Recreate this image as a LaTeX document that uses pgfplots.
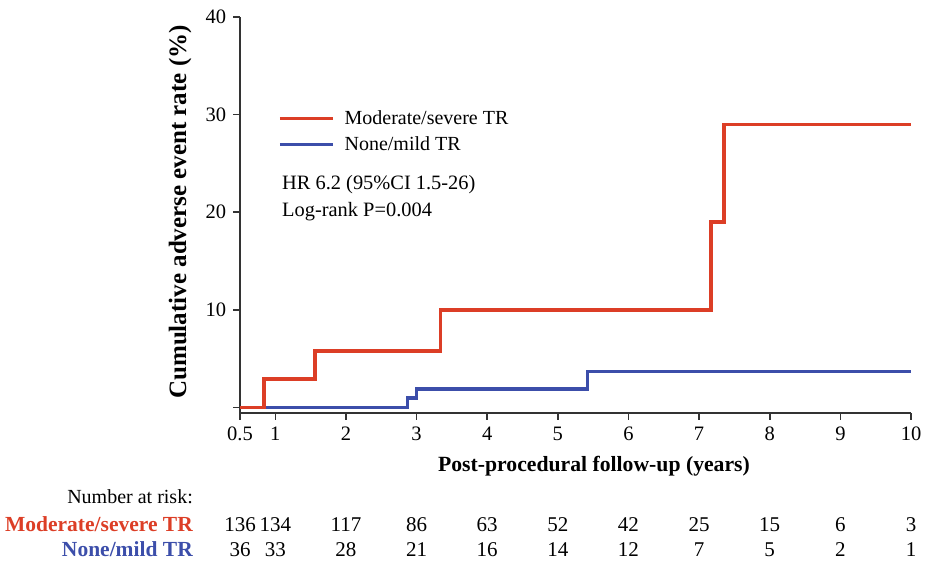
\documentclass[border=0pt]{standalone}
\usepackage{pgfplots}
\pgfplotsset{compat=1.18}
\usepackage{fontspec}
\setmainfont{Liberation Serif}
\definecolor{trred}{RGB}{220,62,38}
\definecolor{trblue}{RGB}{60,78,170}
\begin{document}
\fontsize{20}{24}\selectfont
\begin{tikzpicture}
\path[use as bounding box] (0,0) rectangle (926pt,564pt);
\begin{axis}[
    at={(240pt,151pt)}, anchor=south west,
    scale only axis, width=671pt, height=396pt,
    xmin=0.5, xmax=10, ymin=-0.57, ymax=40,
    axis x line*=bottom, axis y line*=left,
    axis line style={line width=1.6pt, black!80},
    xtick={0.5,1,2,3,4,5,6,7,8,9,10},
    ytick={0,10,20,30,40}, yticklabels={,10,20,30,40},
    tick align=outside, major tick length=7pt,
    tick style={line width=1.6pt, black!80},
    tick label style={font=\fontsize{20.5}{24}\selectfont},
    /pgf/number format/assume math mode=true,
    clip=false,
    reverse legend,
    legend cell align=left,
    legend style={at={(axis description cs:0.052,0.775)}, anchor=north west,
        draw=none, fill=none, font=\fontsize{20}{24}\selectfont, row sep=5pt},
    legend image code/.code={\draw[#1, line width=3.5pt] (0pt,0pt) -- (53pt,0pt);
        \path (61pt,0pt);},
]
% blue drawn first, red on top
\addplot[const plot, trblue, line width=3.5pt] coordinates {
    (0.5,0) (2.87,0.95) (3.0,1.9) (5.42,3.7) (10,3.7)};
\addlegendentry{None/mild TR}
\addplot[const plot, trred, line width=3.5pt] coordinates {
    (0.5,0) (0.84,2.9) (1.565,5.8) (3.34,10) (7.17,19) (7.35,29) (10,29)};
\addlegendentry{Moderate/severe TR}

% number at risk
\begin{scope}[every node/.style={font=\fontsize{21}{24}\selectfont}]
\node at (axis cs:0.5,-12.03) {136}; \node at (axis cs:0.5,-14.6) {36};
\node at (axis cs:1,-12.03) {134};   \node at (axis cs:1,-14.6) {33};
\node at (axis cs:2,-12.03) {117};   \node at (axis cs:2,-14.6) {28};
\node at (axis cs:3,-12.03) {86};    \node at (axis cs:3,-14.6) {21};
\node at (axis cs:4,-12.03) {63};    \node at (axis cs:4,-14.6) {16};
\node at (axis cs:5,-12.03) {52};    \node at (axis cs:5,-14.6) {14};
\node at (axis cs:6,-12.03) {42};    \node at (axis cs:6,-14.6) {12};
\node at (axis cs:7,-12.03) {25};    \node at (axis cs:7,-14.6) {7};
\node at (axis cs:8,-12.03) {15};    \node at (axis cs:8,-14.6) {5};
\node at (axis cs:9,-12.03) {6};     \node at (axis cs:9,-14.6) {2};
\node at (axis cs:10,-12.03) {3};    \node at (axis cs:10,-14.6) {1};
\end{scope}
\end{axis}
\node[anchor=west, align=left, inner sep=0pt, font=\fontsize{20.4}{27}\selectfont] at (282pt,365.5pt)
    {HR 6.2 (95\%CI 1.5-26)\\Log-rank P=0.004};
\node[rotate=90, font=\fontsize{25}{30}\selectfont\bfseries] at (180pt,352pt) {Cumulative adverse event rate (\%)};
\node[font=\fontsize{21.7}{26}\selectfont\bfseries] at (594pt,98pt) {Post-procedural follow-up (years)};
\node[anchor=east, inner sep=0pt] at (193pt,67pt) {Number at risk:};
\node[anchor=east, inner sep=0pt, font=\fontsize{21.5}{26}\selectfont\bfseries, trred] at (193pt,40pt) {Moderate/severe TR};
\node[anchor=east, inner sep=0pt, font=\fontsize{21.5}{26}\selectfont\bfseries, trblue] at (193pt,15pt) {None/mild TR};
\end{tikzpicture}
\end{document}
